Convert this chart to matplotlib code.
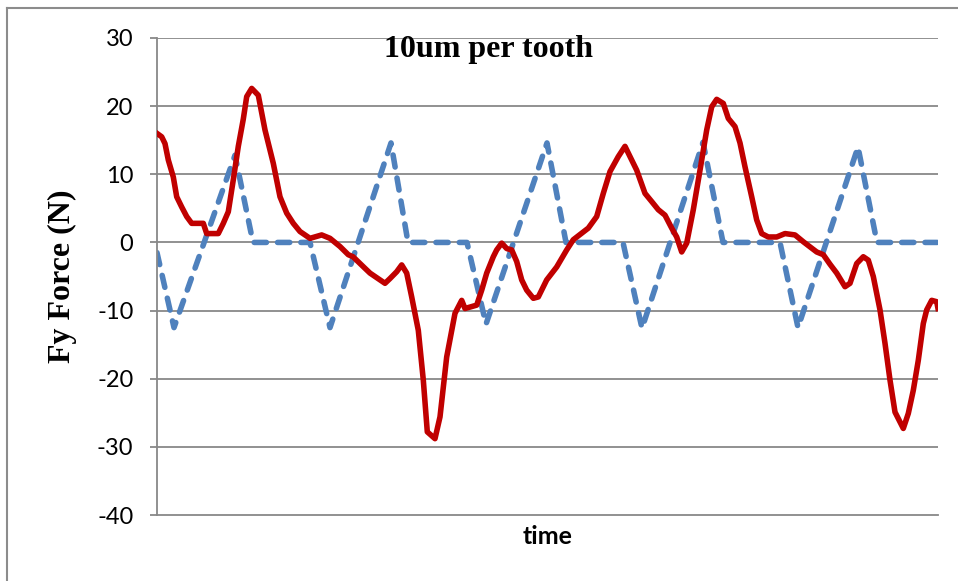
import matplotlib as mpl
mpl.use('agg')
import matplotlib.pyplot as plt
from matplotlib.lines import Line2D

# time in arbitrary units (no ticks on the x axis)
t_ref = [0, 17, 78, 96, 153, 173, 234, 251, 310, 329, 390, 409, 466,
         485, 546, 566, 623, 641, 701, 720, 781]
fy_ref = [-1.5, -12.5, 12.8, 0, 0, -12.5, 14.6, 0, 0, -12.0, 14.6, 0, 0,
          -12.6, 14.7, 0, 0, -12.5, 14.0, 0, 0]

t_meas = [0, 4.7, 8, 11.3, 16.3, 19.7, 24.7, 29.7, 34.7, 46.3, 49.7, 61.3,
          66.3, 71.3, 76.3, 81.3, 86.3, 89.7, 94.7, 101.3, 108, 116.3, 123,
          129.7, 136.3, 143, 153, 164.7, 173, 183, 191.3, 196, 208, 213, 228,
          233, 239.7, 244.7, 249.7, 254.7, 261.3, 266.3, 270.3, 278, 283,
          289.7, 298, 304.7, 308, 319.7, 324.7, 329.7, 336.3, 339.7, 344.7,
          349.7, 354.7, 359.7, 364.7, 369.7, 376.3, 381.3, 389.7, 399.7,
          409.7, 416.3, 431.3, 439.7, 446.3, 453, 461.3, 468, 473, 479.7, 488,
          494.7, 501.3, 508, 514.7, 519.7, 524.7, 529.7, 536.3, 543, 549.7,
          554.7, 559.7, 566.3, 571.3, 578, 583, 588, 594.7, 599.7, 604.7,
          611.3, 619.7, 628, 638, 646.3, 659.7, 666.3, 673, 679.7, 688, 693,
          699.7, 706.3, 711.3, 716.3, 723, 728, 733, 738, 746.3, 751.3, 756.3,
          761.3, 766.3, 769.7, 774.7, 779.7, 781]
fy_meas = [16.0, 15.5, 14.5, 12.1, 9.6, 6.7, 5.2, 3.8, 2.8, 2.8, 1.3, 1.3,
           2.8, 4.5, 9.2, 14.1, 18.1, 21.4, 22.6, 21.6, 16.5, 11.6, 6.7,
           4.3, 2.8, 1.6, 0.6, 1.1, 0.6, -0.6, -1.8, -2.1, -3.8, -4.5, -6.0,
           -5.3, -4.3, -3.3, -4.5, -8.0, -12.9, -20.2, -27.8, -28.8, -25.6,
           -16.8, -10.4, -8.5, -9.7, -9.2, -7.0, -4.5, -2.1, -1.1, -0.1,
           -0.9, -1.1, -2.8, -5.5, -7.0, -8.2, -8.0, -5.5, -3.6,
           -1.1, 0.4, 2.1, 3.8, 7.2, 10.4, 12.6, 14.1, 12.6, 10.6, 7.2,
           6.0, 4.8, 4.0, 2.1, 0.8, -1.4, -0.1, 4.8, 10.6, 16.5,
           19.9, 21.0, 20.4, 18.2, 17.0, 14.6, 11.1, 6.7, 3.3, 1.3,
           0.8, 0.8, 1.3, 1.1, 0.1, -1.4, -1.8, -3.2, -4.5, -6.5, -6.0,
           -3.1, -2.1, -2.6, -5.0, -9.9, -14.8, -20.2, -24.9, -27.3, -25.1, -21.7,
           -17.3, -11.9, -9.9, -8.5, -8.7, -9.7]

yticks = [-40, -30, -20, -10, 0, 10, 20, 30]

fig = plt.figure(figsize=(9.58, 5.81), dpi=100)
ax = fig.add_axes([157 / 958, 1 - 515 / 581, 781 / 958, 477 / 581])

grid_col = '#888888'
for v in yticks[1:]:
    ax.axhline(v, color=grid_col, lw=1.3, zorder=1)

ax.plot(t_ref, fy_ref, color='#4f81bd', lw=4.0, linestyle=(0, (2.2, 2.0)),
        dash_capstyle='round', solid_joinstyle='round', zorder=2)
ax.plot(t_meas, fy_meas, color='#c00000', lw=4.0, solid_joinstyle='round', zorder=3)

ax.set_xlim(0, 781)
ax.set_ylim(-40, 30)
ax.set_xticks([])
ax.set_yticks(yticks)
ax.set_yticklabels([str(v) for v in yticks], family='Lato', fontsize=17)
ax.tick_params(axis='y', direction='out', length=5, width=1.3, color=grid_col, pad=12)

for s in ['top', 'right']:
    ax.spines[s].set_visible(False)
for s in ['left', 'bottom']:
    ax.spines[s].set_color(grid_col)
    ax.spines[s].set_linewidth(1.3)

ax.text(0.424, 0.975, '10um per tooth', transform=ax.transAxes, ha='center', va='center',
        family='Liberation Serif', fontweight='bold', fontsize=23)
fig.text(62 / 958, 1 - 276 / 581, 'Fy Force (N)', rotation=90, ha='center', va='center',
         family='Liberation Serif', fontweight='bold', fontsize=23)
fig.text(548 / 958, 1 - 537 / 581, 'time', ha='center', va='center',
         family='Lato', fontweight='bold', fontsize=18)

# outer chart frame (only top and left edges fall inside the image)
fig.add_artist(Line2D([7 / 958, 7 / 958], [1 - 8 / 581, 0], color='#8c8c8c', lw=1.5))
fig.add_artist(Line2D([7 / 958, 1], [1 - 8 / 581, 1 - 8 / 581], color='#8c8c8c', lw=1.5))

plt.savefig('out.png', dpi=100)
